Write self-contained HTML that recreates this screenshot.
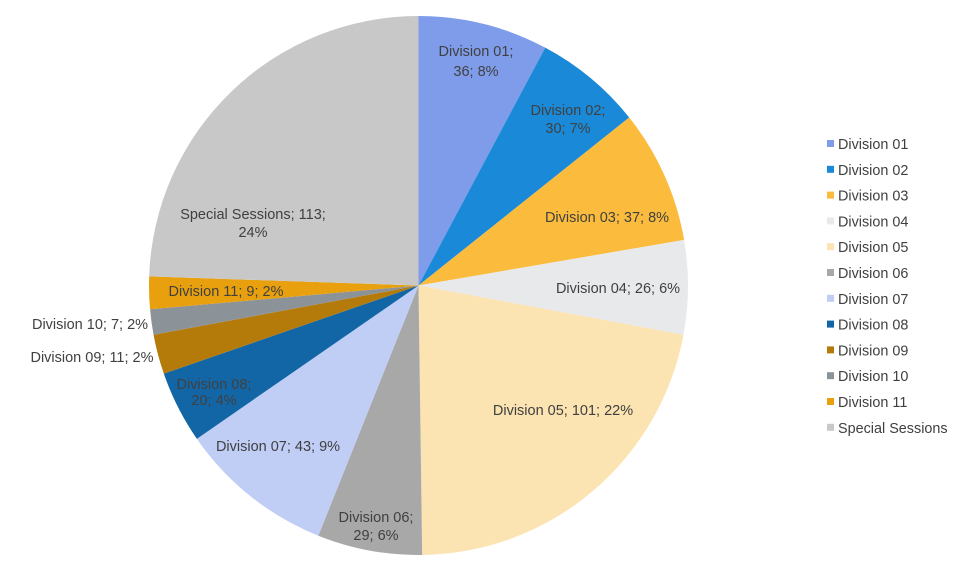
<!DOCTYPE html>
<html><head><meta charset="utf-8"><style>
body{margin:0;background:#fff;width:980px;height:569px;overflow:hidden;font-family:"Liberation Sans",sans-serif}
svg text{font-family:"Liberation Sans",sans-serif;font-size:14.5px;fill:#404040}
</style></head><body>
<svg id="s" width="980" height="569" xmlns="http://www.w3.org/2000/svg"></svg>
<script>
const d=[[36,'#7f9ceb'],[30,'#1a8ad8'],[37,'#fbbb3d'],[26,'#e8e9ea'],[101,'#fbe3b2'],[29,'#a8a8a8'],[43,'#c0cdf5'],[20,'#1366a6'],[11,'#b47a0a'],[7,'#8c9398'],[9,'#e8a00e'],[113,'#c8c8c8']];
const names=['Division 01','Division 02','Division 03','Division 04','Division 05','Division 06','Division 07','Division 08','Division 09','Division 10','Division 11','Special Sessions'];
const cx=418.5,cy=285.5,r=269.5,T=462;let a=0,h='';
d.forEach(([v,c],i)=>{const a1=a+v/T*2*Math.PI;
const x0=cx+r*Math.sin(a),y0=cy-r*Math.cos(a),x1=cx+r*Math.sin(a1),y1=cy-r*Math.cos(a1);
h+=`<path d="M${cx},${cy}L${x0},${y0}A${r},${r} 0 ${a1-a>Math.PI?1:0} 1 ${x1},${y1}Z" fill="${c}"/>`;a=a1;
const ly=144+i*25.8;h+=`<rect x="827" y="${ly-4}" width="7" height="7" fill="${c}"/><text x="838" y="${ly+5}" style="font-size:14.4px">${names[i]}</text>`;});
const L=[[476,56,'Division 01;'],[476,76,'36; 8%'],[568,115,'Division 02;'],[568,133,'30; 7%'],[607,222,'Division 03; 37; 8%'],[618,293,'Division 04; 26; 6%'],[563,415,'Division 05; 101; 22%'],[376,522,'Division 06;'],[376,540,'29; 6%'],[278,451,'Division 07; 43; 9%'],[214,389,'Division 08;'],[214,405,'20; 4%'],[92,362,'Division 09; 11; 2%'],[90,329,'Division 10; 7; 2%'],[226,296,'Division 11; 9; 2%'],[253,219,'Special Sessions; 113;'],[253,237,'24%']];
L.forEach(([x,y,t])=>h+=`<text x="${x}" y="${y}" text-anchor="middle">${t}</text>`);
document.getElementById('s').innerHTML=h;
</script>
</body></html>
